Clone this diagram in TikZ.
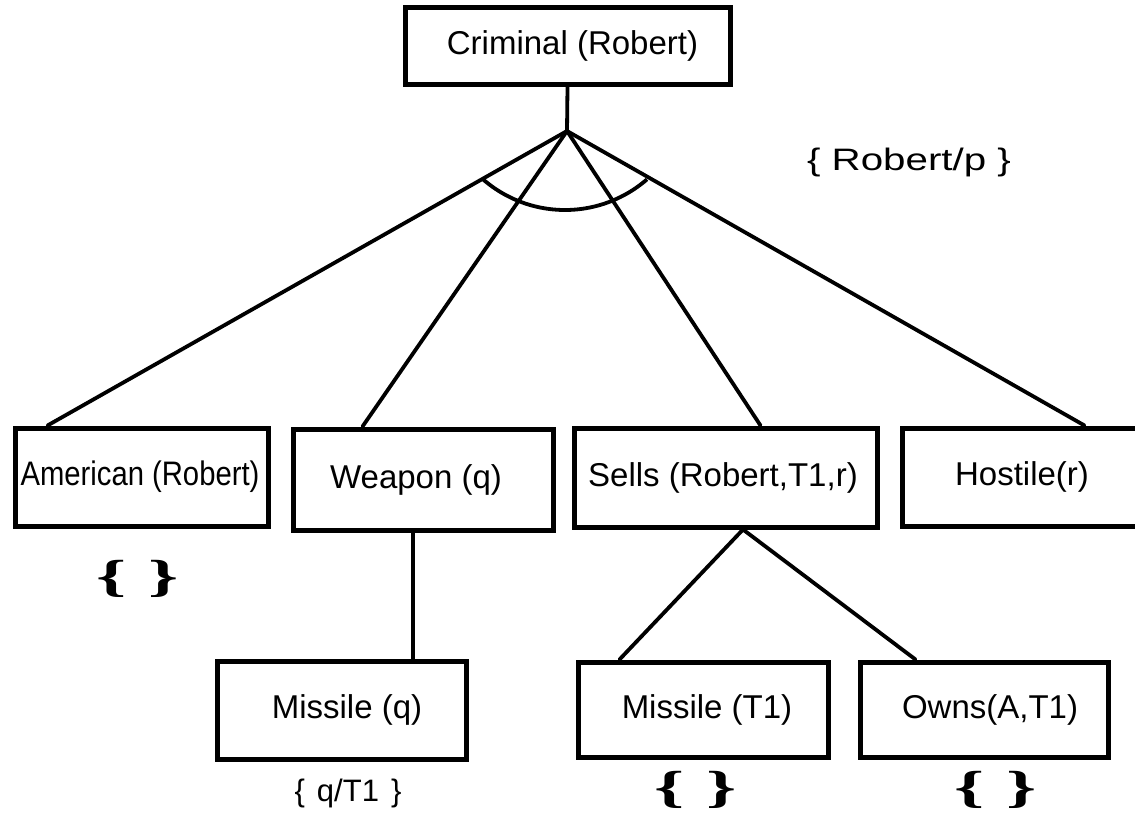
\documentclass[tikz,border=0pt]{standalone}
\usepackage{fontspec}
\setmainfont{Liberation Sans}
\newfontfamily\bracefont{Liberation Serif}
\usetikzlibrary{calc}
\begin{document}
\begin{tikzpicture}[x=1pt,y=-1pt,
  box/.style={draw, line width=5pt, inner sep=0pt, font={\fontsize{33}{40}\selectfont}},
  conn/.style={line width=3.8pt, line cap=round},
  note/.style={inner sep=0pt, font={\fontsize{31}{37}\selectfont}},
  nullset/.style={inner sep=0pt, font={\bracefont\bfseries\fontsize{45}{54}\selectfont}}]
\useasboundingbox (0,0) rectangle (1135,812);
\clip (0,0) rectangle (1135,812);
% boxes
\node[box, minimum width=325pt, minimum height=77pt] (crim) at (567.5,45.5) {\hspace*{10pt}Criminal (Robert)};
\node[box, minimum width=253pt, minimum height=98pt, font={\fontsize{34}{41}\selectfont}] (amer) at (141.5,477) {\hspace*{-3pt}\scalebox{0.86}[1]{American (Robert)}};
\node[box, minimum width=260pt, minimum height=101pt] (weap) at (423,479.5) {\hspace*{-14pt}Weapon (q)};
\node[box, minimum width=303pt, minimum height=99pt] (sells) at (725.5,477.5) {\hspace*{-5pt}Sells (Robert,T1,r)};
\node[box, minimum width=240pt, minimum height=98pt] (host) at (1022,477) {Hostile(r)};
\node[box, minimum width=249pt, minimum height=98pt] (misq) at (341.5,710) {\hspace*{11pt}Missile (q)};
\node[box, minimum width=250pt, minimum height=95pt] (mist) at (703,709.5) {\hspace*{8pt}Missile (T1)};
\node[box, minimum width=248pt, minimum height=95pt] (owns) at (984,709.5) {\hspace*{12pt}Owns(A,T1)};
% junction
\coordinate (J) at (567,131);
\draw[conn] (crim.south) -- (J);
\draw[conn] (J) -- ([xshift=35pt]amer.north west);
\draw[conn] (J) -- ([xshift=72pt]weap.north west);
\draw[conn] (J) -- ([xshift=189pt]sells.north west);
\draw[conn] (J) -- ([xshift=185pt]host.north west);
% and-arc
\draw[line width=3.8pt] plot[domain=229:311, samples=40, smooth] ({565+125*cos(\x)}, {85-125*sin(\x)});
% lower connectors
\draw[conn] ([xshift=-10pt]weap.south) -- ([xshift=71.5pt]misq.north);
\draw[conn] ([xshift=17.5pt]sells.south) -- ([xshift=44pt]mist.north west);
\draw[conn] ([xshift=17.5pt]sells.south) -- ([xshift=58pt]owns.north west);
% substitutions
\node[note] (sub1) at (909,162) {\scalebox{1.3}[1]{\{ Robert/p \}}};
\node[note] (sub2) at (348,793) {\{\hspace{12pt}q/T1\hspace{12pt}\}};
\node[nullset] (e1) at (138,579) {\scalebox{1.7}[1]{\{\hspace{13pt}\}}};
\node[nullset] (e2) at (696,790) {\scalebox{1.7}[1]{\{\hspace{13pt}\}}};
\node[nullset] (e3) at (996,790) {\scalebox{1.7}[1]{\{\hspace{13pt}\}}};
\end{tikzpicture}
\end{document}
